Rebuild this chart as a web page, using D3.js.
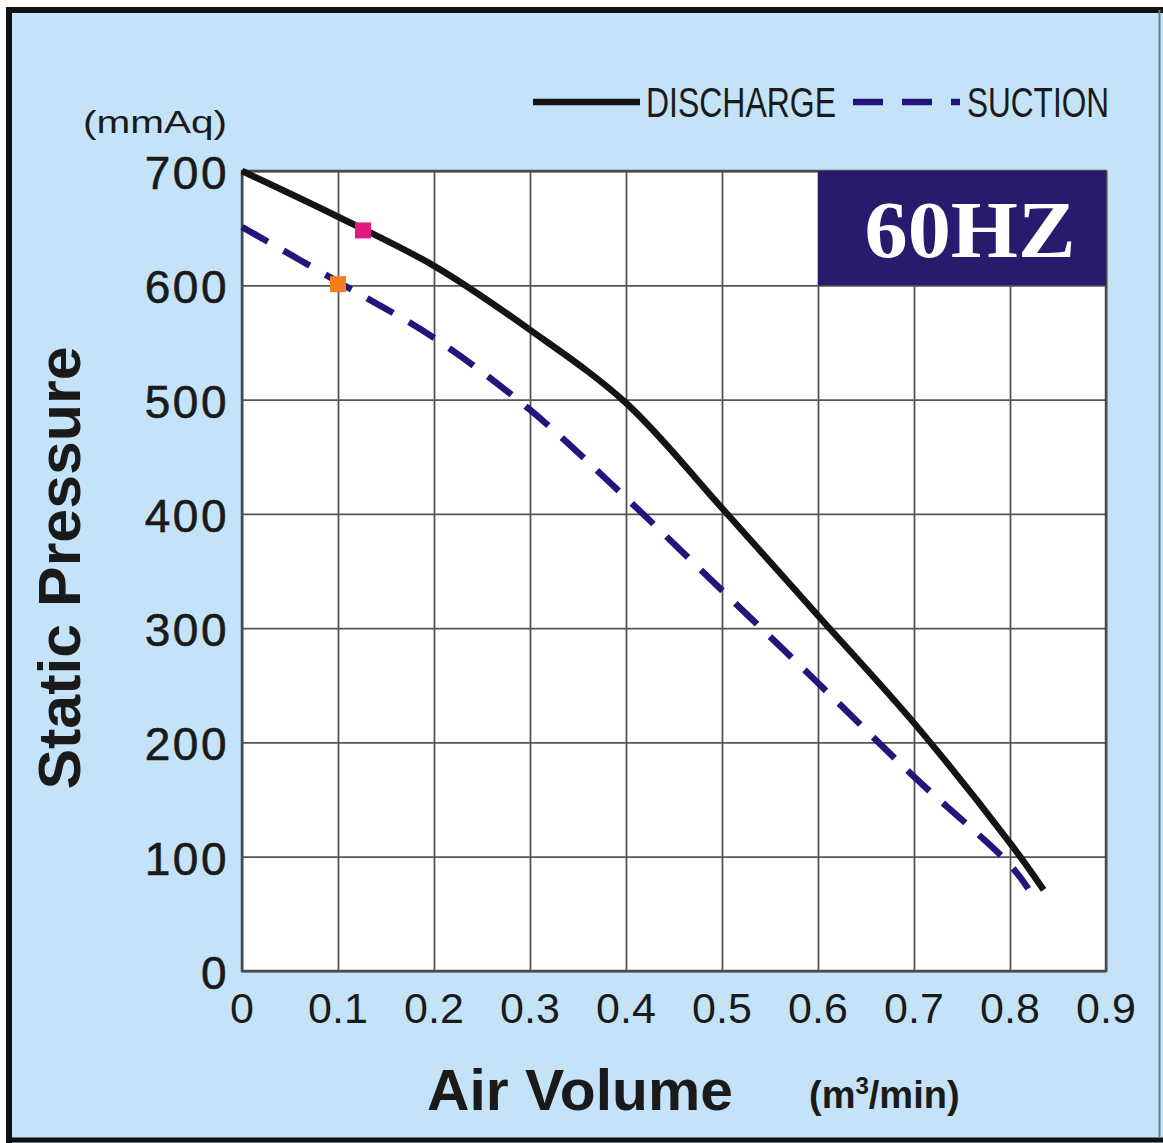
<!DOCTYPE html>
<html>
<head>
<meta charset="utf-8">
<script src="https://cdn.jsdelivr.net/npm/d3@7"></script>
<style>
  html, body { margin: 0; padding: 0; background: #ffffff; }
  svg { display: block; }
</style>
</head>
<body>
<svg id="chart" width="1163" height="1143"></svg>
<script>
// ---- data ----
const xTicks = [0, 0.1, 0.2, 0.3, 0.4, 0.5, 0.6, 0.7, 0.8, 0.9];
const xTickLabels = ["0", "0.1", "0.2", "0.3", "0.4", "0.5", "0.6", "0.7", "0.8", "0.9"];
const yTicks = [0, 100, 200, 300, 400, 500, 600, 700];
const yTickLabels = ["0", "100", "200", "300", "400", "500", "600", "700"];

const dischargeX = [0, 0.1, 0.2, 0.3, 0.4, 0.5, 0.6, 0.7, 0.8, 0.835];
const dischargeY = [700, 660, 617, 561, 497, 405, 311, 217, 112, 71];

const suctionX = [0, 0.1, 0.2, 0.3, 0.4, 0.5, 0.6, 0.7, 0.8, 0.819];
const suctionY = [651, 603, 554, 491, 414, 333, 252, 170, 93, 72];

const markerX = [0.126, 0.1];
const markerY = [648, 601];
const markerColors = ["#e3197f", "#f0801c"];

const legendLabels = ["DISCHARGE", "SUCTION"];
const badgeText = "60HZ";

// ---- layout ----
const svg = d3.select("#chart");
const W = 1163, H = 1143;
const plot = { left: 242, right: 1106, top: 171, bottom: 971 };
const bg = "#c4e3f8";
const navy = "#22167a";

// background panel
svg.append("rect").attr("x", 6).attr("y", 7).attr("width", W - 6).attr("height", H - 7).attr("fill", bg);
// frame lines
svg.append("line").attr("x1", 6).attr("x2", W).attr("y1", 10).attr("y2", 10).attr("stroke", "#111").attr("stroke-width", 6);
svg.append("line").attr("x1", 9).attr("x2", 9).attr("y1", 7).attr("y2", H).attr("stroke", "#111").attr("stroke-width", 6);
svg.append("line").attr("x1", 6).attr("x2", W).attr("y1", 1140).attr("y2", 1140).attr("stroke", "#111").attr("stroke-width", 5);
svg.append("line").attr("x1", 1159.5).attr("x2", 1159.5).attr("y1", 10).attr("y2", 1138).attr("stroke", "#6a7a86").attr("stroke-width", 2);

const x = d3.scaleLinear().domain([0, 0.9]).range([plot.left, plot.right]);
const y = d3.scaleLinear().domain([0, 700]).range([plot.bottom, plot.top]);

// plot area
svg.append("rect")
  .attr("x", x(0)).attr("y", y(700))
  .attr("width", x(0.9) - x(0)).attr("height", y(0) - y(700))
  .attr("fill", "#ffffff");

// grid via axes
const gx = svg.append("g")
  .attr("transform", `translate(0,${y(0)})`)
  .call(d3.axisBottom(x).tickValues(xTicks).tickSize(-(y(0) - y(700))).tickFormat(""));
gx.select(".domain").remove();
gx.selectAll(".tick line").attr("stroke", "#555").attr("stroke-width", 1.8);

const gy = svg.append("g")
  .attr("transform", `translate(${x(0)},0)`)
  .call(d3.axisLeft(y).tickValues(yTicks).tickSize(-(x(0.9) - x(0))).tickFormat(""));
gy.select(".domain").remove();
gy.selectAll(".tick line").attr("stroke", "#555").attr("stroke-width", 1.8);

// frame of plot
svg.append("rect")
  .attr("x", x(0)).attr("y", y(700))
  .attr("width", x(0.9) - x(0)).attr("height", y(0) - y(700))
  .attr("fill", "none").attr("stroke", "#4a4a4a").attr("stroke-width", 2.5);

// 60HZ badge
svg.append("rect")
  .attr("x", x(0.6)).attr("y", y(700))
  .attr("width", x(0.9) - x(0.6)).attr("height", y(600) - y(700))
  .attr("fill", "#281b6e");
svg.append("text")
  .attr("x", 970).attr("y", y(600) - 28)
  .attr("text-anchor", "middle")
  .attr("font-family", "'Liberation Serif', 'DejaVu Serif', serif")
  .attr("font-weight", "bold").attr("font-size", 80)
  .attr("fill", "#ffffff")
  .attr("textLength", 211).attr("lengthAdjust", "spacingAndGlyphs")
  .text(badgeText);

// tick labels
svg.append("g").selectAll("text").data(xTicks).join("text")
  .attr("x", d => x(d)).attr("y", 1023)
  .attr("text-anchor", "middle")
  .attr("font-family", "'Liberation Sans', Arial, sans-serif")
  .attr("font-size", 43).attr("fill", "#1a1a1a")
  .text((d, i) => xTickLabels[i]);

svg.append("g").selectAll("text").data(yTicks).join("text")
  .attr("x", 229).attr("y", d => y(d) + 18)
  .attr("text-anchor", "end")
  .attr("font-family", "'Liberation Sans', Arial, sans-serif")
  .attr("font-size", 46).attr("fill", "#1a1a1a")
  .attr("letter-spacing", 2.5)
  .attr("stroke", "#1a1a1a").attr("stroke-width", 0.6)
  .text((d, i) => yTickLabels[i]);

// units
svg.append("text")
  .attr("x", 83).attr("y", 133)
  .attr("font-family", "'Liberation Sans', Arial, sans-serif")
  .attr("font-size", 31).attr("fill", "#1a1a1a")
  .attr("textLength", 144).attr("lengthAdjust", "spacingAndGlyphs")
  .text("(mmAq)");

// axis titles
svg.append("text")
  .attr("x", 427).attr("y", 1110)
  .attr("font-family", "'Liberation Sans', Arial, sans-serif")
  .attr("font-weight", "bold").attr("font-size", 58).attr("fill", "#1a1a1a")
  .attr("textLength", 306).attr("lengthAdjust", "spacingAndGlyphs")
  .text("Air Volume");

const unitX = svg.append("text")
  .attr("x", 809).attr("y", 1108)
  .attr("font-family", "'Liberation Sans', Arial, sans-serif")
  .attr("font-weight", "bold").attr("font-size", 38).attr("fill", "#1a1a1a");
unitX.append("tspan").text("(m");
unitX.append("tspan").attr("font-size", 24).attr("dy", -14).text("3");
unitX.append("tspan").attr("dy", 14).text("/min)");

svg.append("text")
  .attr("transform", `translate(80,${568}) rotate(-90)`)
  .attr("text-anchor", "middle")
  .attr("font-family", "'Liberation Sans', Arial, sans-serif")
  .attr("font-weight", "bold").attr("font-size", 59).attr("fill", "#1a1a1a")
  .attr("textLength", 443).attr("lengthAdjust", "spacingAndGlyphs")
  .text("Static Pressure");

// curves
const line = d3.line().x(d => x(d[0])).y(d => y(d[1])).curve(d3.curveCatmullRom.alpha(0.5));
const dischargePts = dischargeX.map((v, i) => [v, dischargeY[i]]);
const suctionPts = suctionX.map((v, i) => [v, suctionY[i]]);

svg.append("path").datum(suctionPts)
  .attr("d", line).attr("fill", "none")
  .attr("stroke", navy).attr("stroke-width", 6.5)
  .attr("stroke-dasharray", "30,18");

svg.append("path").datum(dischargePts)
  .attr("d", line).attr("fill", "none")
  .attr("stroke", "#141414").attr("stroke-width", 6.5);

// markers
svg.append("g").selectAll("rect").data(markerX).join("rect")
  .attr("x", (d) => x(d) - 8)
  .attr("y", (d, i) => y(markerY[i]) - 8)
  .attr("width", 16).attr("height", 16)
  .attr("fill", (d, i) => markerColors[i]);

// legend
const lg = svg.append("g");
lg.append("line").attr("x1", 533).attr("x2", 640).attr("y1", 102).attr("y2", 102)
  .attr("stroke", "#141414").attr("stroke-width", 6.5);
lg.append("text").attr("x", 646).attr("y", 117)
  .attr("font-family", "'Liberation Sans', Arial, sans-serif")
  .attr("font-size", 42).attr("fill", "#1a1a1a")
  .attr("textLength", 190).attr("lengthAdjust", "spacingAndGlyphs")
  .text(legendLabels[0]);
lg.append("line").attr("x1", 853).attr("x2", 960).attr("y1", 102).attr("y2", 102)
  .attr("stroke", navy).attr("stroke-width", 6.5)
  .attr("stroke-dasharray", "30,19");
lg.append("text").attr("x", 967).attr("y", 117)
  .attr("font-family", "'Liberation Sans', Arial, sans-serif")
  .attr("font-size", 42).attr("fill", "#1a1a1a")
  .attr("textLength", 142).attr("lengthAdjust", "spacingAndGlyphs")
  .text(legendLabels[1]);
</script>
</body>
</html>
